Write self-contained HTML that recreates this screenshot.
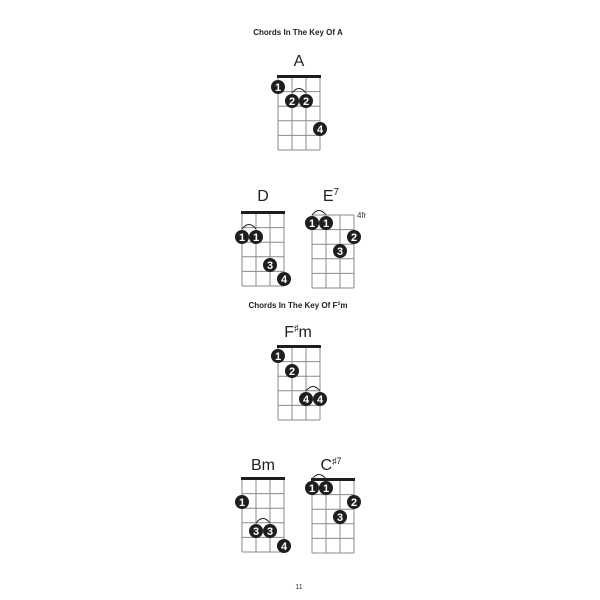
<!DOCTYPE html>
<html><head><meta charset="utf-8"><style>
html,body{margin:0;padding:0;background:#fff;}
svg{display:block;}
text{font-family:"Liberation Sans",sans-serif;}
.g line{stroke:#8a8a8a;stroke-width:1;}
.d circle{fill:#1e1e1e;}
.d text{fill:#fff;font-weight:bold;font-size:11px;text-anchor:middle;}
.n{font-size:16px;fill:#222;text-anchor:middle;}
.t{font-size:8px;font-weight:bold;fill:#222;text-anchor:middle;}
.arc{fill:none;stroke:#222;stroke-width:1;}
</style></head><body>
<svg width="600" height="600" viewBox="0 0 600 600" xmlns="http://www.w3.org/2000/svg">
<defs>
<g id="grid" class="g">
<line x1="0" y1="0" x2="0" y2="73"/><line x1="14" y1="0" x2="14" y2="73"/><line x1="28" y1="0" x2="28" y2="73"/><line x1="42" y1="0" x2="42" y2="73"/>
<line x1="0" y1="0" x2="42" y2="0"/><line x1="0" y1="14.6" x2="42" y2="14.6"/><line x1="0" y1="29.2" x2="42" y2="29.2"/><line x1="0" y1="43.8" x2="42" y2="43.8"/><line x1="0" y1="58.4" x2="42" y2="58.4"/><line x1="0" y1="73" x2="42" y2="73"/>
</g>
</defs>
<rect width="600" height="600" fill="#fff"/>

<text class="t" x="298" y="35">Chords In The Key Of A</text>
<text class="t" x="298" y="308">Chords In The Key Of F<tspan font-size="6" dy="-3">♯</tspan><tspan dy="3">m</tspan></text>

<!-- A -->
<text class="n" x="299" y="66">A</text>
<use href="#grid" x="278" y="77"/>
<rect x="277" y="75" width="44" height="3" fill="#1e1e1e"/>
<path class="arc" d="M292 93 Q299 84 306 93"/>
<g class="d">
<circle cx="278" cy="87" r="7"/><text x="278" y="91">1</text>
<circle cx="292" cy="101" r="7"/><text x="292" y="105">2</text>
<circle cx="306" cy="101" r="7"/><text x="306" y="105">2</text>
<circle cx="320" cy="129" r="7"/><text x="320" y="133">4</text>
</g>

<!-- D -->
<text class="n" x="263" y="201">D</text>
<use href="#grid" x="242" y="213"/>
<rect x="241" y="211" width="44" height="3" fill="#1e1e1e"/>
<path class="arc" d="M242 229 Q249 220 256 229"/>
<g class="d">
<circle cx="242" cy="237" r="7"/><text x="242" y="241">1</text>
<circle cx="256" cy="237" r="7"/><text x="256" y="241">1</text>
<circle cx="270" cy="265" r="7"/><text x="270" y="269">3</text>
<circle cx="284" cy="279" r="7"/><text x="284" y="283">4</text>
</g>

<!-- E7 -->
<text class="n" x="331" y="201">E<tspan font-size="10" dy="-6">7</tspan></text>
<use href="#grid" x="312" y="215"/>
<text x="357" y="218" font-size="8" fill="#333">4fr</text>
<path class="arc" d="M312 215 Q319 206 326 215"/>
<g class="d">
<circle cx="312" cy="223" r="7"/><text x="312" y="227">1</text>
<circle cx="326" cy="223" r="7"/><text x="326" y="227">1</text>
<circle cx="354" cy="237" r="7"/><text x="354" y="241">2</text>
<circle cx="340" cy="251" r="7"/><text x="340" y="255">3</text>
</g>

<!-- F#m -->
<text class="n" x="298" y="337">F<tspan font-size="9" dy="-6">♯</tspan><tspan dy="6">m</tspan></text>
<use href="#grid" x="278" y="347"/>
<rect x="277" y="345" width="44" height="3" fill="#1e1e1e"/>
<path class="arc" d="M306 391 Q313 382 320 391"/>
<g class="d">
<circle cx="278" cy="356" r="7"/><text x="278" y="360">1</text>
<circle cx="292" cy="371" r="7"/><text x="292" y="375">2</text>
<circle cx="306" cy="399" r="7"/><text x="306" y="403">4</text>
<circle cx="320" cy="399" r="7"/><text x="320" y="403">4</text>
</g>

<!-- Bm -->
<text class="n" x="263" y="470">Bm</text>
<use href="#grid" x="242" y="479"/>
<rect x="241" y="477" width="44" height="3" fill="#1e1e1e"/>
<path class="arc" d="M256 523 Q263 514 270 523"/>
<g class="d">
<circle cx="242" cy="502" r="7"/><text x="242" y="506">1</text>
<circle cx="256" cy="531" r="7"/><text x="256" y="535">3</text>
<circle cx="270" cy="531" r="7"/><text x="270" y="535">3</text>
<circle cx="284" cy="546" r="7"/><text x="284" y="550">4</text>
</g>

<!-- C#7 -->
<text class="n" x="331" y="470">C<tspan font-size="9" dy="-6">♯7</tspan></text>
<use href="#grid" x="312" y="480"/>
<rect x="311" y="478" width="44" height="3" fill="#1e1e1e"/>
<path class="arc" d="M312 479 Q319 470 326 479"/>
<g class="d">
<circle cx="312" cy="488" r="7"/><text x="312" y="492">1</text>
<circle cx="326" cy="488" r="7"/><text x="326" y="492">1</text>
<circle cx="354" cy="502" r="7"/><text x="354" y="506">2</text>
<circle cx="340" cy="517" r="7"/><text x="340" y="521">3</text>
</g>

<text x="299" y="589" font-size="7" fill="#333" text-anchor="middle">11</text>
</svg>
</body></html>
